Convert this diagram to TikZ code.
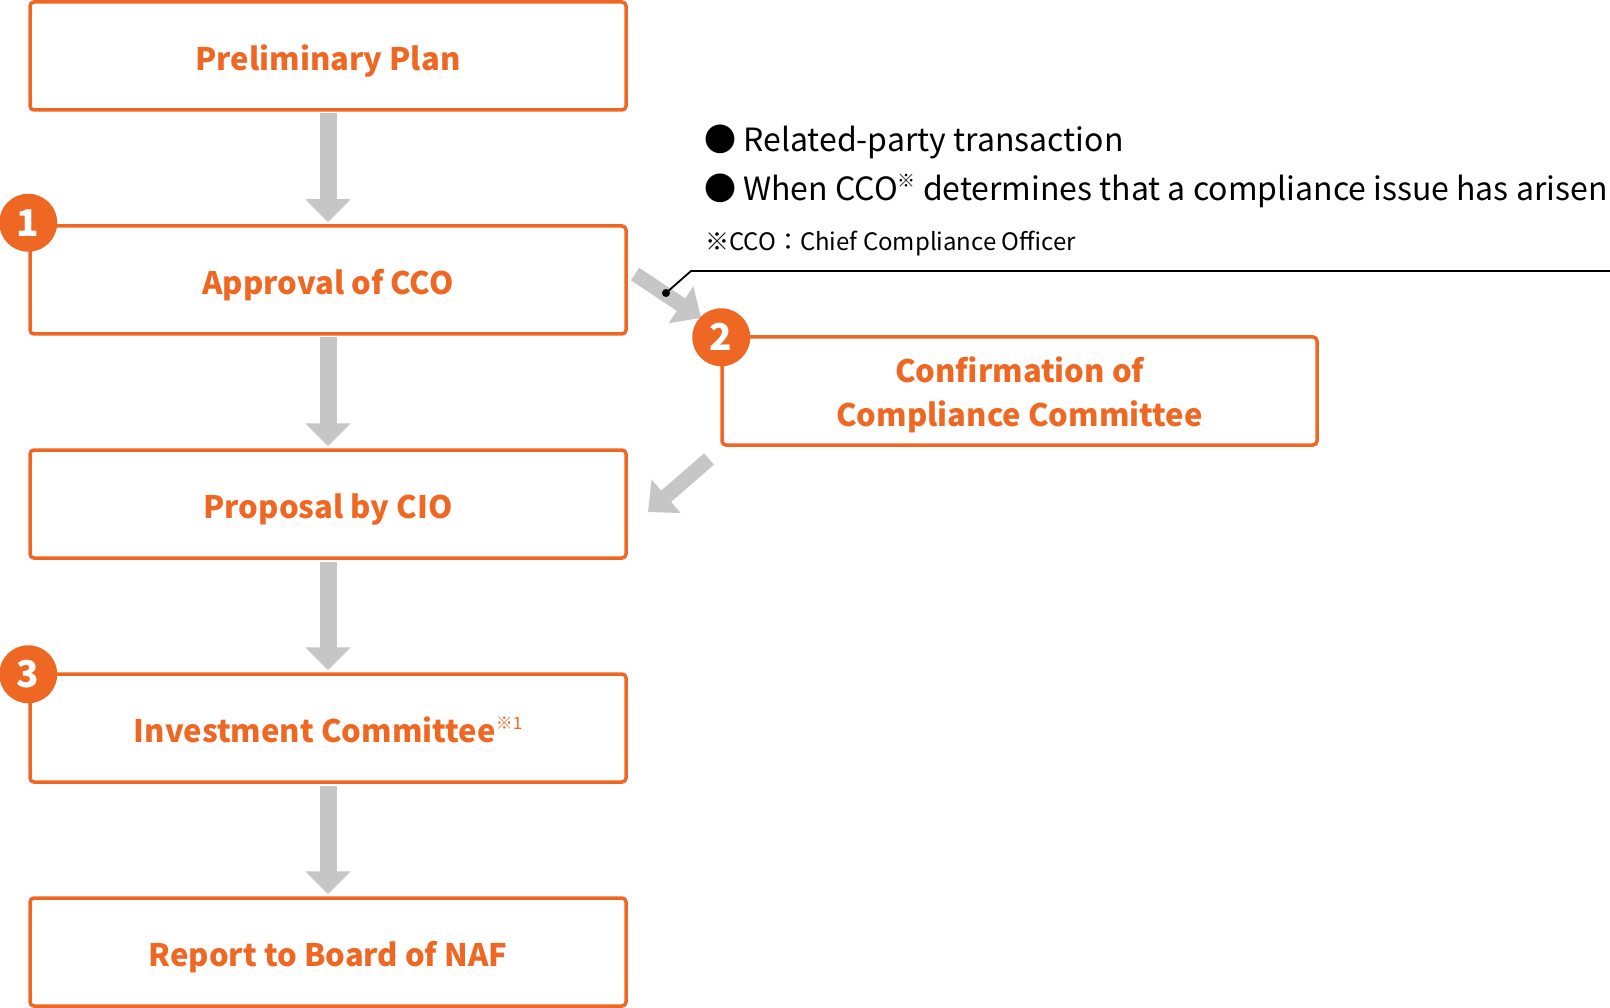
\documentclass[tikz,border=0pt]{standalone}
\usepackage{fontspec}
\setmainfont{Noto Sans CJK JP}
\usetikzlibrary{arrows.meta,calc}
\definecolor{orng}{RGB}{238,104,35}
\definecolor{arrgray}{RGB}{198,198,198}
\newcommand{\kome}[1]{\raisebox{0.42em}{\fontsize{#1}{#1}\selectfont ※}}
\begin{document}
\begin{tikzpicture}[x=1pt,y=-1pt,
  stepbox/.style={draw=orng, line width=3.5pt, rounded corners=4pt, minimum width=596pt,
    minimum height=108pt, inner sep=0pt, text=orng, align=center,
    text height=31.5pt, text depth=3pt,
    font=\fontsize{31}{44}\selectfont\bfseries},
  numcirc/.style={circle, fill=orng, minimum size=58pt, inner sep=0pt, text=white,
    font=\fontsize{37}{37}\selectfont\bfseries},
  flow/.style={draw=arrgray, line width=17pt, -{Triangle[width=44pt,length=23pt]},
    shorten <=1.75pt, shorten >=2pt},
  diag/.style={draw=arrgray, line width=15pt, -{Triangle[width=43pt,length=24pt]}},
  bullettext/.style={anchor=base west, inner sep=0pt, font=\fontsize{32}{32}\selectfont},
  notetext/.style={anchor=base west, inner sep=0pt, font=\fontsize{24}{24}\selectfont},
]
\useasboundingbox (0,0) rectangle (1610,1008);

\node[stepbox] (b1) at (328,56) {Preliminary Plan};
\node[stepbox] (b2) at (328,280) {Approval of CCO};
\node[stepbox] (b3) at (328,504) {Proposal by CIO};
\node[stepbox] (b4) at (328,728) {Investment Committee{\mdseries\kome{17}\raisebox{0.42em}{\fontsize{17}{17}\selectfont 1}}};
\node[stepbox] (b5) at (328,952) {Report to Board of NAF};
\node[stepbox, minimum width=595pt, text height=76pt, text depth=4pt] (cc) at (1019.5,391) {Confirmation of\\Compliance Committee};

\draw[flow] (b1.south) -- (b2.north);
\draw[flow] (b2.south) -- (b3.north);
\draw[flow] (b3.south) -- (b4.north);
\draw[flow] (b4.south) -- (b5.north);

\coordinate (d1s) at (635,274);
\coordinate (d1e) at (701,318);
\coordinate (d2s) at (709,459);
\coordinate (d2e) at (648,512);
\draw[diag] (d1s) -- (d1e);
\draw[diag] (d2s) -- (d2e);

\node[numcirc] (n1) at ($(b2.north west)+(0,-1.5)$) {1};
\node[numcirc] (n2) at ($(cc.north west)+(1,2)$) {2};
\node[numcirc] (n3) at ($(b4.north west)+(0,2)$) {3};

\node[bullettext] (t1) at (704,152) {● Related-party transaction};
\node[bullettext] (t2) at (704,201) {● When CCO\kome{18} determines that a compliance issue has arisen};
\node[notetext] (t3) at (705,251) {※CCO：Chief Compliance Officer};

\coordinate (ldot) at (666,293);
\coordinate (lbend) at (691,271);
\coordinate (lend) at (1610,271);
\draw[line width=1.8pt] (ldot) -- (lbend) -- (lend);
\fill (ldot) circle (4pt);
\end{tikzpicture}
\end{document}
